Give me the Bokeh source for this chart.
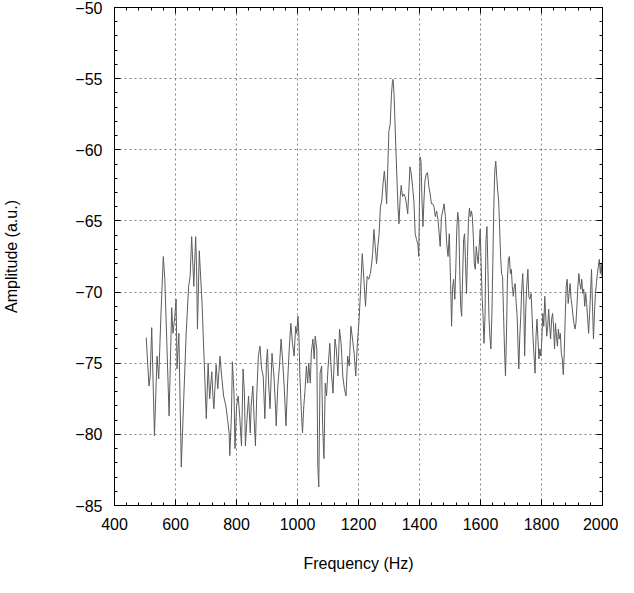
from bokeh.plotting import figure
from bokeh.models import SingleIntervalTicker, LinearAxis, Range1d, CustomJSTickFormatter
from bokeh.embed import file_html
from bokeh.resources import INLINE

# Spectrum (frequency in Hz, amplitude in a.u.)
freq_hz = [
    504, 513, 517, 522, 531, 539.5, 545, 552, 560, 565, 579, 587.5, 591.6, 597, 602, 605, 611, 619, 627, 635,
    643, 648, 653, 660, 666, 669, 672, 678, 687, 701, 707, 712, 719,
    722.6, 725.8, 733.2, 738.6, 746.0, 751.3, 757.7, 765.2, 770.5, 775.8,
    778.0, 783.3, 786.5, 791.8, 795.0, 800.3, 805.6, 811.0, 816.3, 821.6,
    825.9, 829.1, 834.4, 839.7, 845.0, 848.2, 853.6, 857.8, 862.1, 866.3,
    871.7, 877.0, 882.3, 887.6, 893.0, 898.3, 901.5, 905.7, 910.0, 916.4,
    922.8, 928.1, 930.2, 935.5, 940.9, 946.2, 951.5, 956.8, 962.2, 967.5,
    972.8, 978.1, 983.5, 988.8, 994.1, 997.3, 1001.5, 1004.7, 1007.9,
    1012.2, 1016.4, 1020.7, 1025.0, 1029.2, 1033.5, 1036.7, 1042.0, 1045.2, 1050.5,
    1054.8, 1058.0, 1063.3, 1066.5, 1069.7, 1074.0, 1079.2, 1082.4, 1086.7, 1091.0,
    1095.2, 1100.5, 1105.9, 1111.2, 1116.5, 1122.9, 1127.2, 1132.5, 1137.8, 1143.1,
    1148.5, 1153.8, 1159.1, 1164.4, 1169.8, 1175.1, 1180.4, 1185.7, 1191.0, 1196.4,
    1201.7, 1207.0, 1212.3, 1217.6, 1223.0, 1228.3,
    1233.6, 1238.9, 1242.1, 1246.4, 1250.6, 1254.9, 1259.2, 1263.4, 1267.7, 1271.9,
    1276.2, 1280.4, 1284.7, 1289.0, 1292.2, 1295.4, 1299.6, 1303.9, 1308.1, 1311.3,
    1313.5, 1316.6, 1320.9, 1325.2, 1329.4, 1332.6, 1336.9, 1340.1, 1344.3, 1348.6,
    1352.8, 1357.1, 1361.4, 1365.6, 1368.8, 1373.1, 1377.3, 1381.6, 1385.9, 1390.1,
    1394.4, 1397.6, 1399.7, 1401.8, 1405.0, 1408.2, 1411.4, 1414.6, 1417.8, 1422.1,
    1426.3, 1430.6, 1434.8, 1439.1, 1443.3, 1447.6, 1451.9, 1456.1, 1460.4, 1464.6,
    1467.8, 1472.1, 1476.3, 1480.6, 1484.9,
    1489.2, 1493.5, 1497.7, 1502.0, 1505.2, 1508.4, 1511.6, 1515.8, 1519.0, 1522.2,
    1525.4, 1528.6, 1531.8, 1535.0, 1538.2, 1541.4, 1544.6, 1547.8, 1551.0, 1554.1,
    1557.3, 1560.5, 1563.7, 1566.9, 1570.1, 1573.3, 1576.5, 1579.7, 1582.9, 1586.1,
    1589.3, 1592.5, 1595.7, 1598.9, 1602.1, 1605.2, 1608.4, 1611.6, 1614.8, 1618.0,
    1621.2, 1624.4, 1627.6, 1630.8, 1634.0, 1637.2, 1640.4, 1643.6, 1646.8, 1650.0,
    1653.2, 1656.4, 1659.6, 1662.8, 1666.0, 1669.1, 1672.3, 1675.5, 1678.7, 1681.9,
    1685.1, 1688.3, 1691.5, 1694.7, 1697.9, 1701.1, 1704.3, 1707.5, 1710.7, 1713.8,
    1717.0, 1720.2, 1723.4, 1725.6, 1728.8, 1732.0, 1735.2, 1738.4, 1741.5, 1744.7,
    1747.9, 1751.1, 1755.3, 1758.5, 1761.7, 1766.0, 1769.2, 1772.4, 1775.6, 1778.8,
    1782.0, 1785.2, 1788.4, 1791.5, 1794.7, 1797.9, 1801.1, 1804.3, 1807.5, 1810.7,
    1813.9, 1817.1, 1820.3, 1823.5, 1826.7, 1829.9, 1833.1, 1836.3, 1839.5, 1842.7,
    1845.9, 1849.0, 1852.2, 1855.4, 1858.6, 1861.8, 1865.0, 1868.2, 1871.4, 1874.6,
    1877.8, 1881.0, 1884.2, 1887.4, 1890.6, 1893.8, 1897.0, 1900.2, 1903.4, 1906.5,
    1909.7, 1912.9, 1916.1, 1919.3, 1922.5, 1925.7, 1928.9, 1932.1, 1935.3, 1938.5,
    1941.7, 1944.9, 1948.1, 1951.3, 1954.5, 1957.7, 1960.8, 1964.0, 1967.2, 1970.4,
    1973.6, 1976.8, 1980.0, 1983.2, 1986.4, 1989.6, 1992.8, 1996.0, 1998.1,
]

amplitude = [
    -73.2, -76.6, -75.9, -72.5, -80.1, -74.5, -76.1, -71.7, -67.5, -69.1, -78.7, -71.1, -72.9, -71.9, -70.5, -75.4, -72.9, -82.3, -77.5, -72.9,
    -69.6, -68.9, -66.1, -69.6, -66.1, -68.2, -72.6, -67.1, -70.8, -78.9, -75.0, -77.5, -75.6,
    -77.3, -78.2, -75.1, -76.8, -74.5, -75.9, -77.3, -78.0, -78.9, -79.9,
    -81.5, -78.7, -74.9, -77.1, -81.0, -78.0, -77.3, -78.9, -80.8, -75.4,
    -77.1, -80.8, -78.9, -77.3, -79.9, -78.0, -76.6, -78.9, -80.8, -77.3,
    -74.5, -73.8, -75.4, -75.9, -78.9, -74.9, -74.0, -76.6, -78.2, -74.3,
    -75.9, -78.2, -79.4, -76.6, -75.2, -73.3, -74.9, -76.8, -79.4, -76.4,
    -74.0, -72.2, -73.6, -74.5, -72.4, -72.9, -71.7, -73.1, -75.9,
    -78.2, -79.9, -78.0, -76.8, -75.2, -76.4, -75.0, -76.4, -74.3, -73.3,
    -74.7, -73.1, -74.0, -82.2, -83.7, -75.7, -75.2, -79.4, -81.7, -76.4,
    -77.3, -75.2, -73.6, -75.7, -77.1, -73.3, -74.0, -75.9, -72.6, -73.6,
    -75.9, -76.8, -77.3, -74.5, -75.2, -72.4, -73.3, -74.3, -75.9, -73.6,
    -72.0, -69.8, -67.3, -69.1, -71.0, -68.9,
    -69.1, -68.7, -68.2, -67.3, -65.6, -66.8, -68.0, -66.8, -65.9, -64.0,
    -63.6, -62.4, -61.5, -62.6, -63.8, -61.7, -58.7, -58.2, -56.1, -55.2,
    -55.05, -56.1, -58.9, -61.5, -64.0, -65.2, -63.3, -62.5, -63.3, -63.1,
    -63.3, -63.8, -64.5, -62.6, -61.2, -61.7, -62.6, -63.6, -65.9, -66.3,
    -66.6, -67.5, -64.0, -60.5, -60.8, -63.6, -65.4, -63.6, -62.2, -61.7,
    -61.6, -62.6, -63.1, -63.8, -63.8, -64.0, -64.7, -64.3, -64.9, -65.9,
    -66.8, -64.7, -64.3, -63.8, -64.7,
    -66.6, -67.5, -65.9, -69.4, -72.4, -69.8, -69.1, -70.5, -68.4, -65.6,
    -64.4, -65.0, -68.4, -71.0, -71.7, -68.9, -66.3, -65.9, -68.0, -70.1,
    -67.5, -65.0, -64.1, -64.7, -64.3, -64.7, -66.1, -68.0, -68.4, -66.8,
    -67.5, -68.0, -66.8, -65.6, -68.0, -70.3, -71.7, -73.6, -71.7, -66.3,
    -65.4, -68.4, -71.7, -73.1, -74.0, -71.7, -68.0, -64.0, -61.5, -60.8,
    -61.9, -62.9, -63.6, -65.6, -67.5, -68.7, -68.9, -71.5, -74.0, -75.9,
    -73.1, -69.1, -67.7, -67.5, -68.7, -68.4, -69.6, -70.3, -69.6, -69.4,
    -70.8, -71.7, -74.0, -75.4, -73.1, -71.7, -69.8, -68.7, -70.3, -74.5,
    -71.5, -69.8, -68.4, -70.3, -70.5, -70.1, -71.7, -73.3, -74.5, -75.7,
    -73.1, -71.9, -73.3, -74.7, -74.0, -74.5, -73.3, -71.5, -72.4, -70.3,
    -71.7, -73.1, -72.4, -71.2, -72.4, -73.3, -71.9, -71.5, -72.4, -74.0,
    -72.2, -73.1, -73.8, -72.6, -73.3, -72.9, -74.3, -74.7, -75.8, -74.3,
    -71.7, -69.6, -69.1, -70.8, -70.1, -69.4, -70.5, -71.0, -71.7, -72.2,
    -72.6, -72.2, -71.0, -69.6, -68.7, -69.4, -69.8, -69.1, -70.1, -69.8,
    -71.0, -70.1, -70.8, -71.9, -72.9, -71.5, -70.1, -68.4, -71.0, -73.3,
    -71.5, -70.1, -69.4, -68.7, -68.2, -67.7, -68.7, -68.0, -68.9,
]

x_limits = (400, 2000)
y_limits = (-85, -50)
x_tick_step = 200
y_tick_step = 5

FONT = "Liberation Sans"

p = figure(width=618, height=577, output_backend="svg", toolbar_location=None,
           x_range=Range1d(*x_limits), y_range=Range1d(*y_limits),
           min_border_left=114, min_border_right=16, min_border_top=7, min_border_bottom=72,
           background_fill_color="white", border_fill_color="white")

p.line(freq_hz, amplitude, line_color="#5c5c5c", line_width=1)

p.outline_line_color = "black"
p.outline_line_width = 1


def style_axis(ax, ticker, show_labels):
    ax.ticker = ticker
    ax.axis_line_color = "black"
    ax.major_tick_line_color = "black"
    ax.minor_tick_line_color = "black"
    ax.major_tick_in = 6
    ax.major_tick_out = 0
    ax.minor_tick_in = 3
    ax.minor_tick_out = 0
    if show_labels:
        ax.major_label_text_font = FONT
        ax.major_label_text_font_size = "16px"
        ax.major_label_text_color = "black"
        ax.major_label_standoff = 12
        ax.axis_label_text_font = FONT
        ax.axis_label_text_font_size = "16px"
        ax.axis_label_text_font_style = "normal"
        ax.axis_label_text_color = "black"
    else:
        ax.formatter = CustomJSTickFormatter(code="return '';")
        ax.major_label_standoff = 0


xt = SingleIntervalTicker(interval=x_tick_step, num_minor_ticks=5)
yt = SingleIntervalTicker(interval=y_tick_step, num_minor_ticks=5)

style_axis(p.xaxis[0], xt, True)
style_axis(p.yaxis[0], yt, True)
p.xaxis[0].axis_label = "Frequency (Hz)"
p.xaxis[0].axis_label_standoff = 22
p.yaxis[0].axis_label = "Amplitude (a.u.)"
p.yaxis[0].axis_label_standoff = 52

top_axis = LinearAxis()
style_axis(top_axis, SingleIntervalTicker(interval=x_tick_step, num_minor_ticks=5), False)
p.add_layout(top_axis, "above")
right_axis = LinearAxis()
style_axis(right_axis, SingleIntervalTicker(interval=y_tick_step, num_minor_ticks=5), False)
p.add_layout(right_axis, "right")

for g in (p.xgrid[0], p.ygrid[0]):
    g.grid_line_color = "#808080"
    g.grid_line_dash = "2 3"
    g.grid_line_width = 1

open("out.html", "w").write(file_html(p, INLINE))
